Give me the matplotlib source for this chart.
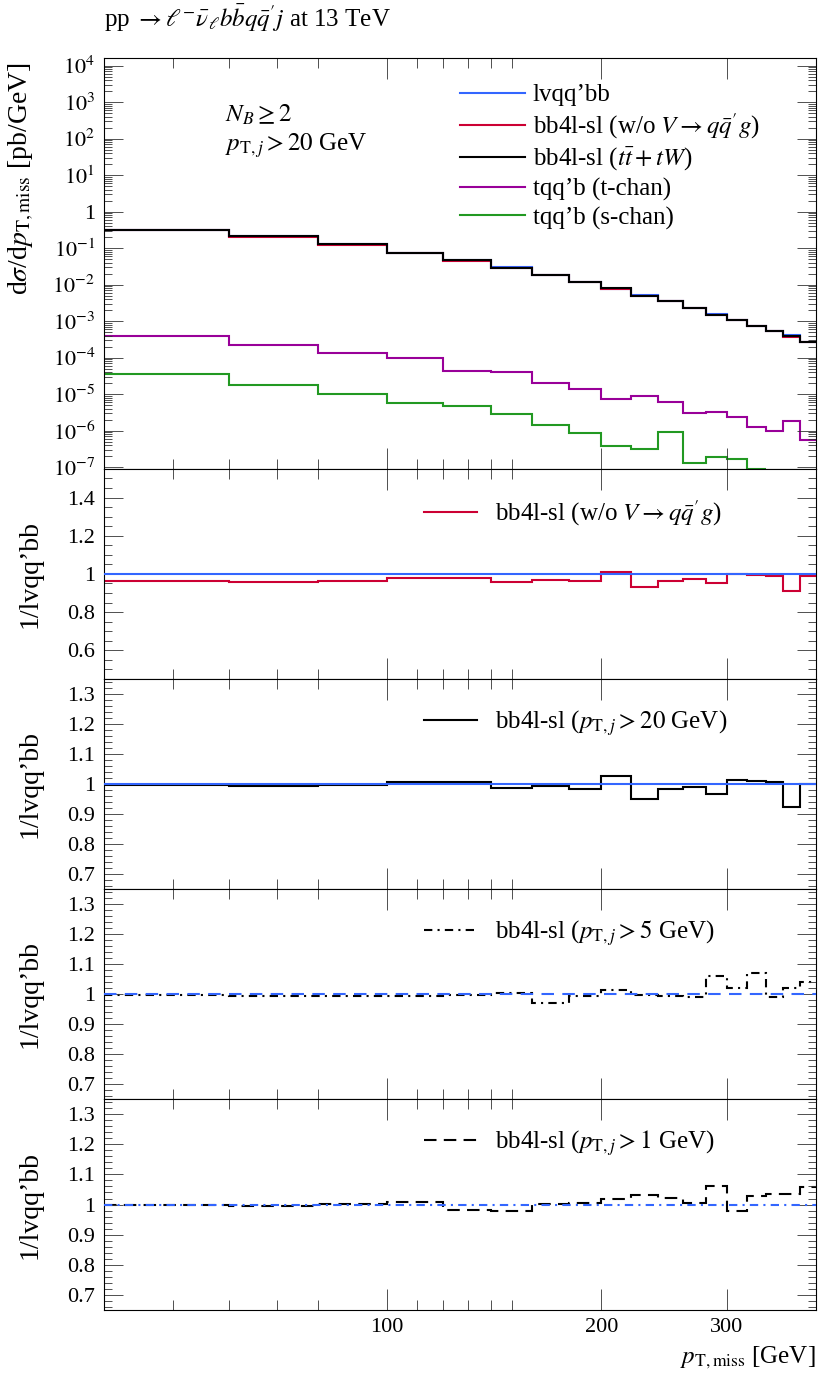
import numpy as np
import matplotlib
matplotlib.use("Agg")
import matplotlib.pyplot as plt
from matplotlib.ticker import FixedLocator, FuncFormatter, LogLocator, MultipleLocator, NullFormatter

plt.rcParams['font.family'] = ['Liberation Serif', 'DejaVu Serif']
plt.rcParams['mathtext.fontset'] = 'stix'

# bin edges in pT,miss [GeV]
edges = np.arange(40, 401, 20)

# d sigma / d pT,miss [pb/GeV]
lvqqbb = [0.322, 0.212, 0.126, 0.0734, 0.0457, 0.0294, 0.0188, 0.0120, 0.00759, 0.00527,
          0.00356, 0.00232, 0.00155, 0.00109, 0.000733, 0.000537, 0.000412, 0.00027]
bb4l_noV = [0.309, 0.202, 0.122, 0.0717, 0.0446, 0.0281, 0.0183, 0.0116, 0.00766, 0.00491,
            0.00344, 0.00226, 0.00147, 0.00108, 0.000728, 0.000532, 0.000375, 0.000267]
bb4l_ttw = [0.32, 0.21, 0.126, 0.074, 0.046, 0.029, 0.0187, 0.0118, 0.0078, 0.0050,
            0.0035, 0.0023, 0.0015, 0.0011, 0.00074, 0.00054, 0.00038, 0.00027]
tqqb_t = [4.0e-4, 2.2e-4, 1.3e-4, 9.6e-5, 4.3e-5, 3.9e-5, 2.0e-5, 1.4e-5, 7.2e-6, 8.9e-6,
          6.0e-6, 3.1e-6, 3.2e-6, 2.3e-6, 1.26e-6, 9.8e-7, 1.85e-6, 5.6e-7]
tqqb_s = [3.5e-5, 1.78e-5, 1.0e-5, 5.6e-6, 4.8e-6, 2.8e-6, 1.42e-6, 8.8e-7, 3.8e-7, 3.2e-7,
          9.1e-7, 1.3e-7, 1.9e-7, 1.7e-7, 9.0e-8, np.nan, np.nan, np.nan]

# ratios to lvqq'bb
ratio_noV = [0.962, 0.956, 0.965, 0.977, 0.977, 0.956, 0.970, 0.963, 1.009, 0.932,
             0.965, 0.976, 0.951, 0.998, 0.993, 0.990, 0.911, 0.988]
ratio_pt20 = [0.995, 0.993, 0.997, 1.008, 1.007, 0.986, 0.993, 0.984, 1.027, 0.949,
              0.982, 0.990, 0.967, 1.014, 1.010, 1.006, 0.922, 1.000]
ratio_pt5 = [0.996, 0.995, 0.994, 0.993, 0.996, 1.005, 0.970, 0.995, 1.014, 0.998,
             0.992, 0.989, 1.059, 1.020, 1.070, 0.990, 1.020, 1.040]
ratio_pt1 = [0.998, 0.995, 1.001, 1.008, 0.981, 0.980, 1.003, 1.006, 1.018, 1.031,
             1.023, 1.006, 1.061, 0.979, 1.029, 1.034, 1.034, 1.057]
ref_ratio = 1.0

main_yticks = [1e-7, 1e-6, 1e-5, 1e-4, 1e-3, 1e-2, 1e-1, 1, 1e1, 1e2, 1e3, 1e4]
x_major = [100, 200, 300]
x_minor = [50, 60, 70, 80, 110, 120, 130, 140, 150]

blue = '#3366ff'
red = '#cc0033'
purple = '#990099'
green = '#229922'

fig = plt.figure(figsize=(8.3, 13.8), dpi=100)
L, W = 0.1247, 0.8584
ax0 = fig.add_axes([L, 0.6601, W, 0.2978])
ax1 = fig.add_axes([L, 0.5080, W, 0.1522])
ax2 = fig.add_axes([L, 0.3558, W, 0.1522])
ax3 = fig.add_axes([L, 0.2036, W, 0.1522])
ax4 = fig.add_axes([L, 0.0507, W, 0.1529])
axes = [ax0, ax1, ax2, ax3, ax4]

lw = 1.5
fs = 18
tfs = 16

# main panel
ax0.stairs(lvqqbb, edges, baseline=None, color=blue, lw=lw, label='lvqq’bb')
ax0.stairs(bb4l_noV, edges, baseline=None, color=red, lw=lw,
           label=r"bb4l-sl (w/o $V\to q\bar{q}'g$)")
ax0.stairs(tqqb_t, edges, baseline=None, color=purple, lw=lw, label='tqq’b (t-chan)')
ax0.stairs(tqqb_s, edges, baseline=None, color=green, lw=lw, label='tqq’b (s-chan)')
ax0.stairs(bb4l_ttw, edges, baseline=None, color='black', lw=lw,
           label=r'bb4l-sl ($t\bar{t}+tW$)')
h, l = ax0.get_legend_handles_labels()
order = [0, 1, 4, 2, 3]
ax0.legend([h[i] for i in order], [l[i] for i in order], loc='upper left',
           bbox_to_anchor=(0.50, 0.937), frameon=False, fontsize=fs, borderpad=0,
           borderaxespad=0, handlelength=2.6, handletextpad=0.32, labelspacing=0.2)
ax0.set_yscale('log')
ax0.set_ylim(8.8e-8, 1.6e4)
ax0.yaxis.set_major_locator(FixedLocator(main_yticks))
ax0.yaxis.set_minor_locator(LogLocator(base=10, subs=np.arange(2, 10), numticks=200))
ax0.yaxis.set_major_formatter(FuncFormatter(
    lambda v, _: '1' if abs(v - 1) < 1e-9 else r'$10^{%d}$' % int(round(np.log10(v)))))
ax0.yaxis.set_minor_formatter(NullFormatter())
ax0.text(0.17, 0.861, r'$N_B \geq 2$', transform=ax0.transAxes, fontsize=fs, va='center')
ax0.text(0.17, 0.788, r'$p_{\mathrm{T},j} > 20$ GeV', transform=ax0.transAxes, fontsize=fs,
         va='center')

# ratio panels
ax1.stairs(ratio_noV, edges, baseline=None, color=red, lw=lw,
           label=r"bb4l-sl (w/o $V\to q\bar{q}'g$)")
ax1.axhline(ref_ratio, color=blue, lw=lw, zorder=3)
ax2.stairs(ratio_pt20, edges, baseline=None, color='black', lw=lw,
           label=r'bb4l-sl ($p_{\mathrm{T},j} > 20$ GeV)')
ax2.axhline(ref_ratio, color=blue, lw=lw, zorder=3)
ax3.stairs(ratio_pt5, edges, baseline=None, color='black', lw=lw, ls=(0, (4, 2.5, 1, 2.5)),
           label=r'bb4l-sl ($p_{\mathrm{T},j} > 5$ GeV)')
ax3.axhline(ref_ratio, color=blue, lw=lw, ls=(0, (6, 4)), zorder=3)
ax4.stairs(ratio_pt1, edges, baseline=None, color='black', lw=lw, ls=(0, (6, 3.5)),
           label=r'bb4l-sl ($p_{\mathrm{T},j} > 1$ GeV)')
ax4.axhline(ref_ratio, color=blue, lw=lw, ls=(0, (4, 2.5, 1, 2.5)), zorder=3)

for ax in [ax1, ax2, ax3, ax4]:
    ax.legend(loc='center left', bbox_to_anchor=(0.45, 0.79), frameon=False, fontsize=fs,
              borderpad=0, borderaxespad=0, handlelength=2.1, handletextpad=0.72)
    ax.yaxis.set_major_formatter(FuncFormatter(lambda v, _: ('%.1f' % v).rstrip('0').rstrip('.')))

ax1.set_ylim(0.45, 1.55)
ax1.yaxis.set_major_locator(FixedLocator([0.6, 0.8, 1.0, 1.2, 1.4]))
ax1.yaxis.set_minor_locator(MultipleLocator(0.05))
for ax in [ax2, ax3, ax4]:
    ax.set_ylim(0.65, 1.35)
    ax.yaxis.set_major_locator(FixedLocator([0.7, 0.8, 0.9, 1.0, 1.1, 1.2, 1.3]))
    ax.yaxis.set_minor_locator(MultipleLocator(0.02))

for ax in axes:
    ax.set_xscale('log')
    ax.set_xlim(40, 400)
    ax.xaxis.set_major_locator(FixedLocator(x_major))
    ax.xaxis.set_minor_locator(FixedLocator(x_minor))
    ax.xaxis.set_minor_formatter(NullFormatter())
    ax.xaxis.set_major_formatter(FuncFormatter(lambda v, _: '%d' % v))
    ax.tick_params(which='both', direction='in', top=True, right=True, labelsize=tfs,
                   width=0.6, color='#333333')
    ax.tick_params(axis='x', which='major', length=15, pad=6)
    ax.tick_params(axis='x', which='minor', length=7)
    ax.tick_params(axis='y', which='major', length=14, pad=6)
    ax.tick_params(axis='y', which='minor', length=6)
    for s in ax.spines.values():
        s.set_linewidth(0.8)
    if ax is not ax4:
        ax.tick_params(axis='x', labelbottom=False)
    if ax is not ax0:
        pos = ax.get_position()
        fig.text(0.036, pos.y0 + pos.height / 2, '1/lvqq’bb',
                 rotation=90, ha='center', va='center', fontsize=20)

fig.text(0.026, 1 - 62 / 1380, r'd$\sigma$/d$p_{\mathrm{T,miss}}$ [pb/GeV]', rotation=90,
         ha='center', va='top', fontsize=20)
fig.text(L, 1 - 18 / 1380, r"pp $\to \ell^{-}\bar{\nu}_{\ell}b\bar{b}q\bar{q}'j$ at 13 TeV",
         ha='left', va='center', fontsize=fs)
fig.text(L + W, 1 - 1358 / 1380, r'$p_{\mathrm{T,miss}}$ [GeV]', ha='right', va='center',
         fontsize=fs)

plt.savefig('out.png', dpi=100)
